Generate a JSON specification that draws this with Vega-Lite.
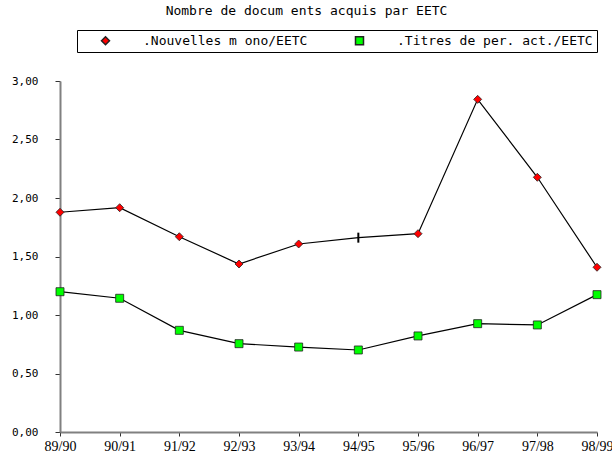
{
  "$schema": "https://vega.github.io/schema/vega-lite/v6.json",
  "width": 537,
  "height": 351,
  "autosize": {"type": "none"},
  "padding": {"left": 60, "top": 81, "right": 15, "bottom": 22},
  "background": "white",
  "config": {"view": {"stroke": null}},
  "title": {
    "text": "Nombre de docum ents acquis par EETC",
    "font": "DejaVu Sans Mono",
    "fontSize": 13,
    "fontWeight": "normal",
    "color": "black",
    "anchor": "middle",
    "dx": -22,
    "offset": 12
  },
  "data": {
    "values": [
      {"period": "89/90", "series": ".Nouvelles m ono/EETC", "value": 1.878},
      {"period": "90/91", "series": ".Nouvelles m ono/EETC", "value": 1.917},
      {"period": "91/92", "series": ".Nouvelles m ono/EETC", "value": 1.669},
      {"period": "92/93", "series": ".Nouvelles m ono/EETC", "value": 1.436},
      {"period": "93/94", "series": ".Nouvelles m ono/EETC", "value": 1.607},
      {"period": "94/95", "series": ".Nouvelles m ono/EETC", "value": 1.661},
      {"period": "95/96", "series": ".Nouvelles m ono/EETC", "value": 1.695},
      {"period": "96/97", "series": ".Nouvelles m ono/EETC", "value": 2.843},
      {"period": "97/98", "series": ".Nouvelles m ono/EETC", "value": 2.177},
      {"period": "98/99", "series": ".Nouvelles m ono/EETC", "value": 1.408},
      {"period": "89/90", "series": ".Titres de per. act./EETC", "value": 1.199},
      {"period": "90/91", "series": ".Titres de per. act./EETC", "value": 1.143},
      {"period": "91/92", "series": ".Titres de per. act./EETC", "value": 0.869},
      {"period": "92/93", "series": ".Titres de per. act./EETC", "value": 0.755},
      {"period": "93/94", "series": ".Titres de per. act./EETC", "value": 0.726},
      {"period": "94/95", "series": ".Titres de per. act./EETC", "value": 0.701},
      {"period": "95/96", "series": ".Titres de per. act./EETC", "value": 0.821},
      {"period": "96/97", "series": ".Titres de per. act./EETC", "value": 0.926},
      {"period": "97/98", "series": ".Titres de per. act./EETC", "value": 0.915},
      {"period": "98/99", "series": ".Titres de per. act./EETC", "value": 1.174}
    ]
  },
  "encoding": {
    "x": {
      "field": "period",
      "type": "ordinal",
      "sort": null,
      "scale": {"type": "point", "padding": 0},
      "axis": {
        "title": null,
        "labelAngle": 0,
        "labelFont": "Liberation Serif",
        "labelFontSize": 14,
        "labelColor": "black",
        "labelPadding": 3,
        "tickSize": 4,
        "tickColor": "#333333",
        "domainColor": "#808080",
        "domainWidth": 2,
        "grid": false
      }
    },
    "y": {
      "field": "value",
      "type": "quantitative",
      "scale": {"domain": [0, 3], "nice": false, "zero": true},
      "axis": {
        "title": null,
        "values": [0, 0.5, 1, 1.5, 2, 2.5, 3],
        "labelExpr": "replace(format(datum.value, '.2f'), '.', ',')",
        "labelFont": "DejaVu Sans Mono",
        "labelFontSize": 11,
        "labelColor": "black",
        "labelPadding": 17,
        "tickSize": 5,
        "tickColor": "#333333",
        "domainColor": "#808080",
        "domainWidth": 2,
        "grid": false
      }
    }
  },
  "layer": [
    {
      "mark": {"type": "line", "color": "black", "strokeWidth": 1.2},
      "encoding": {"detail": {"field": "series"}}
    },
    {
      "transform": [{"filter": "datum.period != '94/95' || datum.series != '.Nouvelles m ono/EETC'"}],
      "mark": {"type": "point", "filled": true, "size": 64, "stroke": "#222222", "strokeWidth": 0.8, "opacity": 1},
      "encoding": {
        "fill": {
          "field": "series",
          "type": "nominal",
          "scale": {"domain": [".Nouvelles m ono/EETC", ".Titres de per. act./EETC"], "range": ["#ff0000", "#00ff00"]},
          "legend": null
        },
        "shape": {
          "field": "series",
          "type": "nominal",
          "scale": {"domain": [".Nouvelles m ono/EETC", ".Titres de per. act./EETC"], "range": ["diamond", "square"]},
          "legend": {
            "title": null,
            "orient": "none",
            "legendX": 17,
            "legendY": -51,
            "direction": "horizontal",
            "strokeColor": "black",
            "fillColor": "white",
            "padding": 4,
            "labelFont": "DejaVu Sans Mono",
            "labelFontSize": 13,
            "labelColor": "black",
            "labelLimit": 400,
            "symbolSize": 64,
            "symbolOffset": 18,
            "labelOffset": 31,
            "columnPadding": 27,
            "encode": {
              "symbols": {
                "fill": {"value": {"expr": "datum.index === 0 ? '#ff0000' : '#00ff00'"}},
                "stroke": {"value": "#111111"},
                "strokeWidth": {"value": 1},
                "opacity": {"value": 1}
              }
            }
          }
        }
      }
    },
    {
      "transform": [{"filter": "datum.period == '94/95' && datum.series == '.Nouvelles m ono/EETC'"}],
      "mark": {"type": "point", "filled": false, "shape": "M0,-1L0,1", "size": 100, "stroke": "black", "strokeWidth": 2, "opacity": 1},
      "encoding": {}
    }
  ]
}
